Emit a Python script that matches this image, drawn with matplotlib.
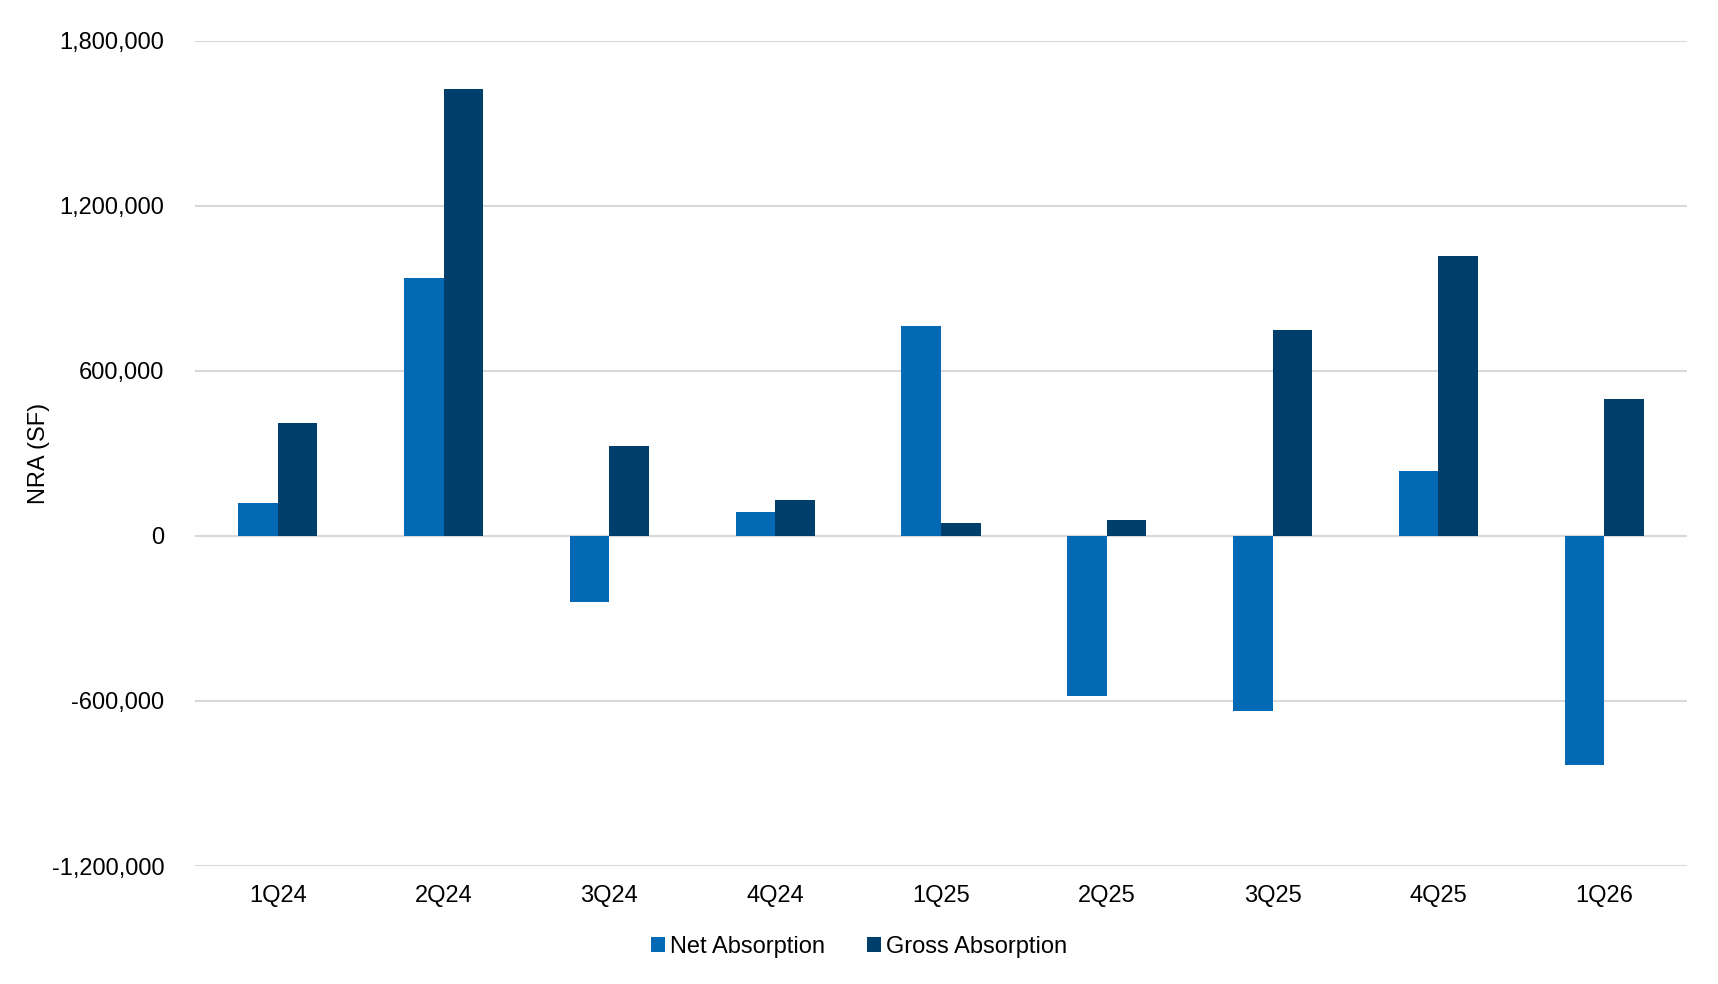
import numpy as np
import matplotlib
matplotlib.use('Agg')
import matplotlib.pyplot as plt
from matplotlib.ticker import FuncFormatter

# Datos por trimestre (NRA en pies cuadrados)
trimestres = ['1Q24', '2Q24', '3Q24', '4Q24', '1Q25', '2Q25', '3Q25', '4Q25', '1Q26']
neta = [121000, 937000, -239000, 87000, 761000, -584000, -635000, 236000, -832000]
bruta = [411000, 1622000, 325000, 130000, 48000, 56000, 749000, 1016000, 496000]

azul = '#0369B4'
azul_oscuro = '#003E6B'

plt.rcParams['font.family'] = ['Liberation Sans', 'DejaVu Sans']
plt.rcParams['axes.unicode_minus'] = False

fig = plt.figure(figsize=(17.18, 9.84), dpi=100)
ax = fig.add_axes([195 / 1718, 1 - 866 / 984, (1687 - 195) / 1718, (866 - 40.5) / 984])

x = np.arange(len(trimestres))
w = 0.2387
ax.bar(x - w / 2, neta, w, color=azul, label='Net Absorption', zorder=3)
ax.bar(x + w / 2, bruta, w, color=azul_oscuro, label='Gross Absorption', zorder=3)

ax.set_xlim(-0.5, len(trimestres) - 0.5)
ax.set_ylim(-1200000, 1800000)
ax.set_yticks(np.arange(-1200000, 1800001, 600000))
ax.yaxis.set_major_formatter(FuncFormatter(lambda v, p: f'{v:,.0f}'))
ax.set_xticks(x)
ax.set_xticklabels(trimestres)

ax.grid(axis='y', color='#D9D9D9', linewidth=1.5, zorder=0)
for s in ax.spines.values():
    s.set_visible(False)
ax.tick_params(axis='both', length=0, labelsize=17, colors='#000000')
ax.tick_params(axis='y', pad=22)
ax.tick_params(axis='x', pad=14)

ax.set_ylabel('NRA (SF)', fontsize=17)
ax.yaxis.set_label_coords(-0.097, 0.5)

fig.legend(loc='center', bbox_to_anchor=(0.5, 1 - 947 / 984), ncol=2, frameon=False,
           fontsize=17, handlelength=0.6, handleheight=0.6, handletextpad=0.2,
           columnspacing=1.8)

plt.savefig('out.png', dpi=100)
